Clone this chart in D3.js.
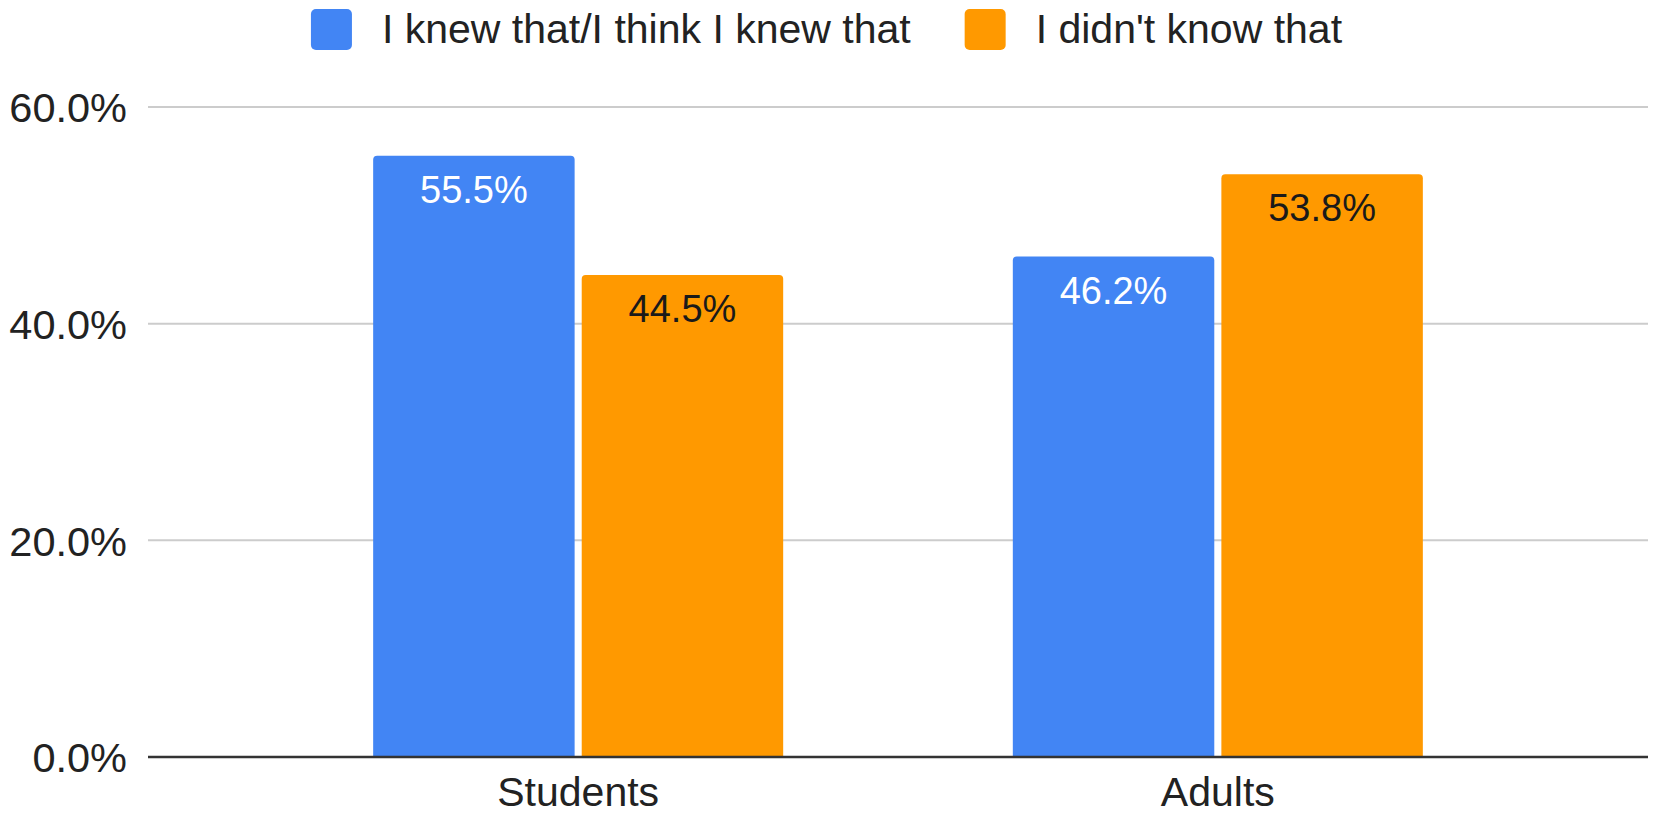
<!DOCTYPE html>
<html>
<head>
<meta charset="utf-8">
<title>I knew that / I didn't know that</title>
<script src="https://cdnjs.cloudflare.com/ajax/libs/d3/7.8.5/d3.min.js"></script>
<style>
  body { margin: 0; background: #ffffff; }
  text { font-family: "Liberation Sans", Arial, Helvetica, sans-serif; }
</style>
</head>
<body>
<script>
// chart data
var groups = ["Students", "Adults"];
var seriesNames = ["I knew that/I think I knew that", "I didn't know that"];
var knewValues = [55.5, 46.2];
var didntKnowValues = [44.5, 53.8];
var yTicks = [0, 20, 40, 60];

var colors = ["#4285f4", "#ff9900"];
var labelColors = ["#ffffff", "#1a1a1a"];

window.onload = function()
{
  var width = 1653,
      height = 814;
  var plot = {left: 148, right: 1648, top: 107, bottom: 757};

  var svg = d3.select("body")
    .append("svg")
    .attr("width", width)
    .attr("height", height);

  // build rows from the arrays
  var rows = groups.map(function(g, i) {
    return {group: g, values: [knewValues[i], didntKnowValues[i]]};
  });

  // scales
  var y = d3.scaleLinear()
    .domain([0, 60])
    .range([plot.bottom, plot.top]);

  var x0 = d3.scaleBand()
    .domain(groups)
    .range([plot.left, plot.right])
    .paddingInner(0.359)
    .paddingOuter(0.352);

  var x1 = d3.scaleBand()
    .domain([0, 1])
    .range([0, x0.bandwidth()])
    .paddingInner(0.034)
    .paddingOuter(0);

  // gridlines
  svg.append("g")
    .selectAll("line")
    .data(yTicks.filter(function(d) { return d > 0; }))
    .enter()
    .append("line")
    .attr("x1", plot.left)
    .attr("x2", plot.right)
    .attr("y1", function(d) { return y(d); })
    .attr("y2", function(d) { return y(d); })
    .attr("stroke", "#cccccc")
    .attr("stroke-width", 2);

  // y axis labels
  var yAxis = d3.axisLeft(y)
    .tickValues(yTicks)
    .tickSize(0)
    .tickPadding(21)
    .tickFormat(function(d) { return d.toFixed(1) + "%"; });

  var yAxisG = svg.append("g")
    .attr("transform", "translate(" + plot.left + ",0)")
    .call(yAxis);
  yAxisG.select(".domain").remove();
  yAxisG.selectAll("text")
    .attr("dy", "0.36em")
    .style("font-size", "41.5px")
    .style("fill", "#222222");

  // bars with rounded top corners
  function barPath(x, top, w, bottom, r) {
    r = Math.min(r, (bottom - top));
    return "M" + x + "," + bottom +
      "V" + (top + r) +
      "Q" + x + "," + top + " " + (x + r) + "," + top +
      "H" + (x + w - r) +
      "Q" + (x + w) + "," + top + " " + (x + w) + "," + (top + r) +
      "V" + bottom + "Z";
  }

  var groupG = svg.selectAll(".group")
    .data(rows)
    .enter()
    .append("g")
    .attr("class", "group")
    .attr("transform", function(d) { return "translate(" + x0(d.group) + ",0)"; });

  var bars = groupG.selectAll(".bar")
    .data(function(d) { return d.values.map(function(v, i) { return {value: v, series: i}; }); })
    .enter();

  bars.append("path")
    .attr("class", "bar")
    .attr("d", function(d) {
      return barPath(x1(d.series), y(d.value), x1.bandwidth(), y(0), 4);
    })
    .attr("fill", function(d) { return colors[d.series]; });

  // value labels inside bars
  bars.append("text")
    .attr("x", function(d) { return x1(d.series) + x1.bandwidth() / 2; })
    .attr("y", function(d) { return y(d.value) + 47; })
    .attr("text-anchor", "middle")
    .style("font-size", "38px")
    .style("fill", function(d) { return labelColors[d.series]; })
    .text(function(d) { return d.value.toFixed(1) + "%"; });

  // baseline
  svg.append("line")
    .attr("x1", plot.left)
    .attr("x2", plot.right)
    .attr("y1", y(0))
    .attr("y2", y(0))
    .attr("stroke", "#333333")
    .attr("stroke-width", 2.5);

  // x axis labels
  var xAxis = d3.axisBottom(x0).tickSize(0).tickPadding(0);
  var xAxisG = svg.append("g")
    .attr("transform", "translate(0," + y(0) + ")")
    .call(xAxis);
  xAxisG.select(".domain").remove();
  xAxisG.selectAll("text")
    .attr("dy", null)
    .attr("y", 49)
    .style("font-size", "41px")
    .style("fill", "#222222");

  // legend, centred on the page
  var legend = svg.append("g");
  var items = legend.selectAll(".legend")
    .data(seriesNames)
    .enter()
    .append("g")
    .attr("class", "legend");

  items.append("rect")
    .attr("width", 41)
    .attr("height", 41)
    .attr("y", 9)
    .attr("rx", 5)
    .attr("fill", function(d, i) { return colors[i]; });

  items.append("text")
    .attr("x", 71)
    .attr("y", 43)
    .style("font-size", "41px")
    .style("fill", "#222222")
    .text(function(d) { return d; });

  var offset = 0;
  items.each(function() {
    var w = 71 + d3.select(this).select("text").node().getComputedTextLength();
    d3.select(this).attr("transform", "translate(" + offset + ",0)");
    offset += w + 54;
  });
  var total = offset - 54;
  legend.attr("transform", "translate(" + (width / 2 - total / 2) + ",0)");
};
</script>
</body>
</html>
